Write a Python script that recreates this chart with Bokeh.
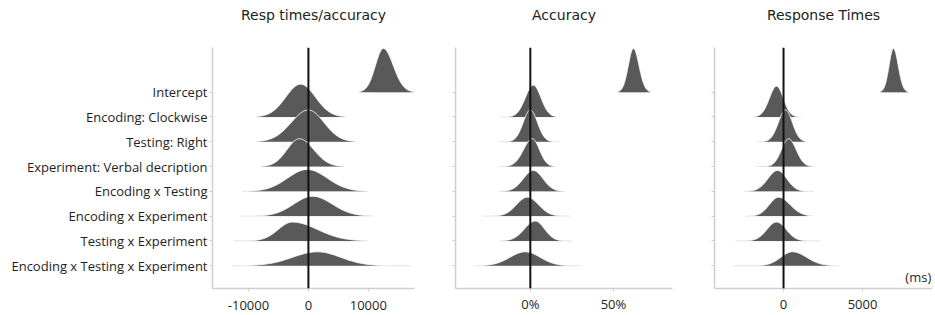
import numpy as np
from bokeh.plotting import figure
from bokeh.layouts import row
from bokeh.models import FixedTicker, Span, Label, Title
from bokeh.embed import file_html
from bokeh.resources import INLINE

# ---------------- data ----------------
terms = ["Intercept", "Encoding: Clockwise", "Testing: Right",
         "Experiment: Verbal decription", "Encoding x Testing",
         "Encoding x Experiment", "Testing x Experiment",
         "Encoding x Testing x Experiment"]
row_pos = [8, 7, 6, 5, 4, 3, 2, 1]

# Panel 1: Resp times/accuracy (posterior mode, left/right spread, peak height in rows)
p1_mode = [12500, -1300, 0, -1500, -200, 700, -2700, 1500]
p1_sd_left = [1330, 2470, 2870, 2070, 3270, 3130, 2330, 4130]
p1_sd_right = [1670, 2470, 2600, 2400, 3330, 3270, 4200, 3870]
p1_height = [1.76, 1.32, 1.28, 1.12, 0.88, 0.80, 0.76, 0.56]
p1_tail_lo = [10500, -8500, -8000, -8000, -11000, -11500, -12500, -12700]
p1_tail_hi = [17000, 6200, 7500, 6000, 10000, 10800, 9200, 17000]

# Panel 2: Accuracy (%)
p2_mode = [62.0, 1.8, 0.0, 1.2, 1.8, -1.8, 3.0, -3.0]
p2_sd_left = [3.1, 4.8, 4.3, 5.3, 6.0, 6.5, 6.5, 9.2]
p2_sd_right = [3.4, 4.6, 4.3, 4.3, 5.8, 6.7, 5.5, 8.9]
p2_height = [1.76, 1.28, 1.28, 1.12, 0.84, 0.76, 0.80, 0.56]
p2_tail_lo = [55, -18, -19, -19, -19, -29, -18, -33]
p2_tail_hi = [70, 16, 17, 15, 21, 24, 25, 30]

# Panel 3: Response Times (ms)
p3_mode = [6960, -440, 130, 320, -380, -320, -440, 570]
p3_sd_left = [280, 456, 456, 456, 608, 582, 608, 734]
p3_sd_right = [304, 430, 430, 481, 582, 734, 608, 886]
p3_height = [1.76, 1.24, 1.28, 1.12, 0.84, 0.76, 0.76, 0.56]
p3_tail_lo = [6100, -1900, -1700, -1700, -2500, -2400, -3040, -3165]
p3_tail_hi = [7900, 1100, 1400, 2000, 1900, 1500, 2340, 3480]

titles = ["Resp times/accuracy", "Accuracy", "Response Times"]
x_ranges = [(-16000, 17700), (-45, 85.5), (-4370, 9430)]
x_ticks = [[-10000, 0, 10000], [0, 50], [0, 5000]]
x_tick_labels = [["-10000", "0", "10000"], ["0%", "50%"], ["0", "5000"]]
unit_label = "(ms)"

FONT = "Open Sans"
TITLE_FONT = "DejaVu Sans"
FILL = "#595959"
AXIS_C = "#cfcfcf"
TEXT_C = "#1e1e1e"
Y_RANGE = (0.08, 9.8)


def make_panel(idx, modes, sdl, sdr, heights, tlo, thi, width, bl, br, show_labels,
               xlab_standoff):
    p = figure(width=width, height=315, output_backend="svg", toolbar_location=None,
               x_range=x_ranges[idx], y_range=Y_RANGE,
               min_border_left=bl, min_border_right=br,
               min_border_top=47, min_border_bottom=25)
    p.title.text = titles[idx]
    p.title.align = "center"
    p.title.text_font = TITLE_FONT
    p.title.text_font_size = "14px"
    p.title.text_font_style = "normal"
    p.title.text_color = "#222222"
    p.title.standoff = 0
    # blank spacer between the frame and the title
    p.add_layout(Title(text=" ", text_font=TITLE_FONT, text_font_size="14px", standoff=7),
                 "above")
    p.outline_line_color = None
    p.xgrid.grid_line_color = None
    p.ygrid.grid_line_color = None
    p.background_fill_color = "white"
    p.border_fill_color = "white"

    # faint tails
    for k in range(len(terms)):
        p.line([tlo[k], thi[k]], [row_pos[k], row_pos[k]], line_color="#e4e4e4", line_width=1)
    # ridges, upper rows first so lower rows sit on top
    for k in range(len(terms)):
        m, a, b, h, base = modes[k], sdl[k], sdr[k], heights[k], row_pos[k]
        xs = np.linspace(m - 3.0 * a, m + 3.0 * b, 160)
        s = np.where(xs < m, a, b)
        ys = base + h * np.exp(-0.5 * ((xs - m) / s) ** 2)
        px = np.concatenate([[xs[0]], xs, [xs[-1]]])
        py = np.concatenate([[base], ys, [base]])
        p.patch(px, py, fill_color=FILL, line_color=None)
        p.line(xs, ys, line_color="white", line_width=1, line_alpha=0.9)

    p.add_layout(Span(location=0, dimension="height", line_color="#111111", line_width=2))

    p.xaxis.ticker = FixedTicker(ticks=x_ticks[idx])
    p.xaxis.major_label_overrides = {t: l for t, l in zip(x_ticks[idx], x_tick_labels[idx])}
    p.yaxis.ticker = FixedTicker(ticks=row_pos)
    for ax in (p.xaxis[0], p.yaxis[0]):
        ax.axis_line_color = AXIS_C
        ax.axis_line_width = 1.5
        ax.major_tick_line_color = AXIS_C
        ax.major_tick_in = 0
        ax.major_tick_out = 3
        ax.minor_tick_line_color = None
        ax.major_label_text_font = FONT
        ax.major_label_text_font_size = "13px"
        ax.major_label_text_color = TEXT_C
    p.xaxis.major_label_standoff = xlab_standoff
    if show_labels:
        p.yaxis.major_label_overrides = {r: t for r, t in zip(row_pos, terms)}
        p.yaxis.major_label_standoff = 2
    else:
        p.yaxis.major_label_overrides = {r: "" for r in row_pos}
        p.yaxis.major_label_standoff = 0
        p.yaxis.major_label_text_font_size = "0px"
    return p


p1 = make_panel(0, p1_mode, p1_sd_left, p1_sd_right, p1_height, p1_tail_lo, p1_tail_hi,
                440, 212, 26, True, 9)
p2 = make_panel(1, p2_mode, p2_sd_left, p2_sd_right, p2_height, p2_tail_lo, p2_tail_hi,
                260, 15, 28, False, 3)
p3 = make_panel(2, p3_mode, p3_sd_left, p3_sd_right, p3_height, p3_tail_lo, p3_tail_hi,
                235, 14, 3, False, 8)
p3.add_layout(Label(x=9350, y=0.55, text=unit_label, text_align="right", text_baseline="middle",
                    text_font=FONT, text_font_size="13px", text_color=TEXT_C))

layout = row(p1, p2, p3)
open("out.html", "w").write(file_html(layout, INLINE))
